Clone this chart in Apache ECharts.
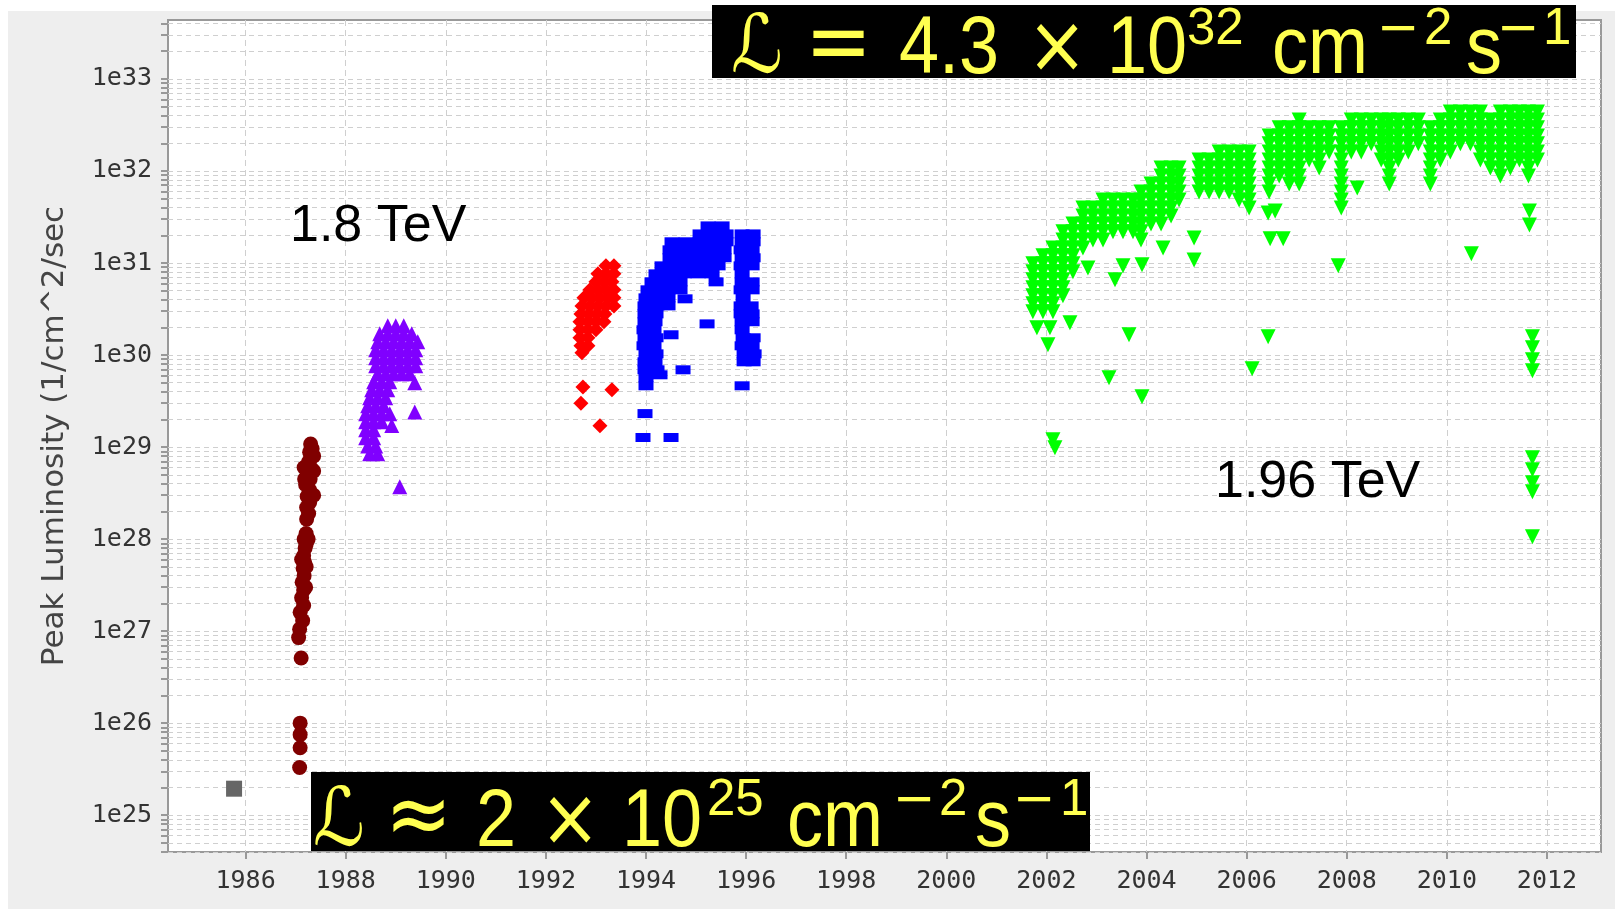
<!DOCTYPE html>
<html>
<head>
<meta charset="utf-8">
<title>Tevatron peak luminosity</title>
<script src="https://cdn.jsdelivr.net/npm/echarts@6/dist/echarts.min.js"></script>
<style>
  html, body { margin: 0; padding: 0; background: #ffffff; }
  #panel { position: absolute; left: 8px; top: 11px; width: 1607px; height: 898px; background: #eeeeee; }
  #chart { position: absolute; left: 0; top: 0; width: 1615px; height: 909px; }
</style>
</head>
<body>
<div id="panel"></div>
<div id="chart"></div>
<script>
// ---- axis ticks -------------------------------------------------------
const yearTicks = [1986, 1988, 1990, 1992, 1994, 1996, 1998, 2000, 2002, 2004, 2006, 2008, 2010, 2012];
const decadeTicks = [1e25, 1e26, 1e27, 1e28, 1e29, 1e30, 1e31, 1e32, 1e33];

// ---- peak luminosity per store [year, 1/cm^2/sec] ---------------------
const firstCollisions = [[1985.77, 1.94e25]];

const run1987 = [
  [1987.08, 3.3e25], [1987.09, 5.4e25], [1987.09, 7.5e25], [1987.09, 1.0e26],
  [1987.11, 5.1e26], [1987.06, 8.5e26], [1987.08, 1.05e27], [1987.14, 1.3e27], [1987.09, 1.6e27],
  [1987.16, 1.9e27], [1987.12, 2.3e27], [1987.16, 2.8e27], [1987.20, 3.0e27], [1987.13, 3.4e27],
  [1987.17, 4.0e27], [1987.15, 4.8e27], [1987.21, 5.0e27], [1987.18, 5.6e27], [1987.12, 6.0e27],
  [1987.16, 6.6e27], [1987.19, 8.0e27],
  [1987.17, 1.0e28], [1987.25, 1.0e28], [1987.21, 1.15e28], [1987.21, 0.88e28],
  [1987.22, 1.65e28], [1987.26, 1.9e28], [1987.22, 2.2e28], [1987.28, 2.5e28], [1987.23, 2.9e28],
  [1987.36, 3.0e28], [1987.28, 3.4e28], [1987.20, 3.9e28], [1987.29, 4.5e28], [1987.18, 4.5e28],
  [1987.25, 5.2e28], [1987.36, 5.5e28], [1987.30, 6.0e28], [1987.17, 6.0e28], [1987.26, 6.9e28],
  [1987.31, 7.9e28], [1987.36, 8.0e28], [1987.28, 8.8e28], [1987.33, 9.6e28], [1987.30, 1.08e29]
];

const run1988 = [
  [1988.84, 2.08e30], [1989.00, 2.08e30], [1989.16, 2.08e30],
  [1988.68, 1.70e30], [1988.84, 1.70e30], [1989.00, 1.70e30], [1989.16, 1.70e30], [1989.32, 1.70e30],
  [1988.64, 1.39e30], [1988.80, 1.39e30], [1988.96, 1.39e30], [1989.12, 1.39e30], [1989.28, 1.39e30], [1989.44, 1.39e30],
  [1988.60, 1.14e30], [1988.76, 1.14e30], [1988.92, 1.14e30], [1989.08, 1.14e30], [1989.24, 1.14e30], [1989.40, 1.14e30],
  [1988.60, 9.33e29], [1988.76, 9.33e29], [1988.92, 9.33e29], [1989.08, 9.33e29], [1989.24, 9.33e29], [1989.40, 9.33e29],
  [1988.60, 7.64e29], [1988.76, 7.64e29], [1988.92, 7.64e29], [1989.08, 7.64e29], [1989.24, 7.64e29], [1989.40, 7.64e29],
  [1988.64, 6.26e29], [1988.80, 6.26e29], [1988.96, 6.26e29], [1989.12, 6.26e29], [1989.28, 6.26e29],
  [1988.56, 5.12e29], [1988.72, 5.12e29], [1988.88, 5.12e29],
  [1988.52, 4.19e29], [1988.68, 4.19e29], [1988.84, 4.19e29],
  [1988.48, 3.43e29], [1988.64, 3.43e29], [1988.80, 3.43e29],
  [1988.44, 2.81e29], [1988.60, 2.81e29], [1988.76, 2.81e29],
  [1988.40, 2.30e29], [1988.56, 2.30e29], [1988.72, 2.30e29], [1988.88, 2.30e29],
  [1988.40, 1.88e29], [1988.56, 1.88e29], [1988.72, 1.88e29],
  [1988.40, 1.54e29], [1988.56, 1.54e29], [1988.40, 1.26e29], [1988.56, 1.26e29],
  [1988.44, 1.03e29], [1988.60, 1.03e29], [1988.48, 8.46e28], [1988.64, 8.46e28],
  [1989.38, 5.0e29], [1989.38, 2.4e29], [1988.92, 1.72e29], [1989.08, 3.7e28]
];

const run1a = [
  [1993.20, 9.31e30], [1993.36, 9.31e30],
  [1993.04, 7.62e30], [1993.20, 7.62e30], [1993.36, 7.62e30],
  [1993.00, 6.24e30], [1993.16, 6.24e30], [1993.32, 6.24e30],
  [1992.88, 5.11e30], [1993.04, 5.11e30], [1993.20, 5.11e30], [1993.36, 5.11e30],
  [1992.76, 4.18e30], [1992.92, 4.18e30], [1993.08, 4.18e30], [1993.24, 4.18e30], [1993.36, 4.18e30],
  [1992.72, 3.42e30], [1992.88, 3.42e30], [1993.04, 3.42e30], [1993.20, 3.42e30], [1993.36, 3.42e30],
  [1992.70, 2.80e30], [1992.86, 2.80e30], [1993.02, 2.80e30], [1993.18, 2.80e30],
  [1992.68, 2.30e30], [1992.84, 2.30e30], [1993.00, 2.30e30], [1993.16, 2.30e30],
  [1992.68, 1.88e30], [1992.84, 1.88e30], [1993.00, 1.88e30],
  [1992.68, 1.54e30], [1992.84, 1.54e30], [1992.70, 1.26e30], [1992.84, 1.26e30],
  [1992.72, 1.06e30],
  [1992.74, 4.5e29], [1993.32, 4.2e29], [1992.70, 3.0e29], [1993.08, 1.7e29]
];

const run1b = [
  [1995.24, 2.53e31], [1995.52, 2.53e31],
  [1995.08, 2.07e31], [1995.36, 2.07e31], [1995.60, 2.07e31],
  [1994.52, 1.70e31], [1994.80, 1.70e31], [1995.08, 1.70e31], [1995.36, 1.70e31], [1995.60, 1.70e31],
  [1994.48, 1.39e31], [1994.76, 1.39e31], [1995.04, 1.39e31], [1995.32, 1.39e31], [1995.56, 1.39e31],
  [1994.48, 1.14e31], [1994.76, 1.14e31], [1995.04, 1.14e31], [1995.32, 1.14e31], [1995.56, 1.14e31],
  [1994.32, 9.31e30], [1994.60, 9.31e30], [1994.88, 9.31e30], [1995.16, 9.31e30], [1995.44, 9.31e30],
  [1994.20, 7.62e30], [1994.48, 7.62e30], [1994.76, 7.62e30], [1995.04, 7.62e30], [1995.32, 7.62e30],
  [1994.12, 6.24e30], [1994.40, 6.24e30], [1994.68, 6.24e30], [1995.40, 6.24e30],
  [1994.04, 5.11e30], [1994.28, 5.11e30], [1994.44, 5.11e30], [1994.68, 5.11e30],
  [1994.00, 4.18e30], [1994.24, 4.18e30], [1994.44, 4.18e30],
  [1993.98, 3.42e30], [1994.22, 3.42e30], [1994.44, 3.42e30], [1993.98, 2.80e30], [1994.20, 2.80e30],
  [1993.98, 2.30e30], [1994.18, 2.30e30], [1993.96, 1.88e30], [1994.16, 1.88e30],
  [1993.98, 1.54e30], [1994.20, 1.54e30], [1993.96, 1.26e30], [1994.16, 1.26e30],
  [1994.00, 1.03e30], [1994.20, 1.03e30], [1993.98, 8.44e29], [1994.18, 8.44e29],
  [1993.98, 6.91e29], [1994.22, 6.91e29], [1994.00, 5.66e29], [1994.00, 4.63e29],
  [1995.92, 2.07e31], [1996.14, 2.07e31], [1995.92, 1.70e31], [1996.14, 1.70e31],
  [1995.90, 1.39e31], [1996.12, 1.39e31], [1995.92, 1.14e31], [1996.14, 1.14e31],
  [1995.90, 9.31e30], [1996.12, 9.31e30], [1995.92, 7.62e30], [1995.92, 6.24e30], [1996.12, 6.24e30],
  [1995.90, 5.11e30], [1996.12, 5.11e30], [1995.94, 4.18e30], [1995.90, 3.42e30], [1996.10, 3.42e30],
  [1995.90, 2.80e30], [1996.12, 2.80e30], [1995.92, 2.30e30], [1996.12, 2.30e30], [1995.92, 1.88e30],
  [1995.94, 1.54e30], [1996.14, 1.54e30], [1995.92, 1.26e30], [1996.12, 1.26e30],
  [1995.96, 1.03e30], [1996.16, 1.03e30], [1995.96, 8.44e29], [1996.14, 8.44e29],
  [1995.92, 4.63e29], [1994.78, 4.08e30], [1995.22, 2.18e30], [1994.50, 1.66e30], [1994.74, 6.91e29],
  [1994.28, 6.10e29], [1993.98, 2.31e29], [1993.94, 1.27e29], [1994.50, 1.27e29]
];

// Run II: stores grouped by date, [year, [peak values]]
const run2Stores = [
  [2001.73, [9.79e30, 8.01e30, 6.56e30, 5.37e30, 4.40e30, 3.60e30, 2.95e30]],
  [2001.93, [1.20e31, 9.79e30, 8.01e30, 6.56e30, 5.37e30, 4.40e30, 3.60e30, 2.95e30]],
  [2002.13, [1.46e31, 1.20e31, 9.79e30, 8.01e30, 6.56e30, 5.37e30, 4.40e30, 3.60e30, 2.95e30]],
  [2002.33, [2.18e31, 1.78e31, 1.46e31, 1.20e31, 9.79e30, 8.01e30, 6.56e30, 5.37e30, 4.40e30]],
  [2002.53, [2.66e31, 2.18e31, 1.78e31, 1.46e31, 1.20e31, 9.79e30, 8.01e30]],
  [2002.73, [3.97e31, 3.25e31, 2.66e31, 2.18e31, 1.78e31, 1.46e31]],
  [2002.93, [3.97e31, 3.25e31, 2.66e31, 2.18e31, 1.78e31]],
  [2003.13, [4.85e31, 3.97e31, 3.25e31, 2.66e31, 2.18e31, 1.78e31]],
  [2003.33, [4.85e31, 3.97e31, 3.25e31, 2.66e31, 2.18e31]],
  [2003.53, [4.85e31, 3.97e31, 3.25e31, 2.66e31, 2.18e31]],
  [2003.73, [4.85e31, 3.97e31, 3.25e31, 2.66e31, 2.18e31]],
  [2003.89, [5.92e31, 4.85e31, 3.97e31, 3.25e31, 2.66e31, 2.18e31, 1.78e31]],
  [2004.09, [7.24e31, 5.92e31, 4.85e31, 3.97e31, 3.25e31, 2.66e31]],
  [2004.29, [1.08e32, 8.84e31, 7.24e31, 5.92e31, 4.85e31, 3.97e31, 3.25e31, 2.66e31]],
  [2004.49, [1.08e32, 8.84e31, 7.24e31, 5.92e31, 4.85e31, 3.97e31, 3.25e31]],
  [2004.65, [1.08e32, 8.84e31, 7.24e31, 5.92e31, 4.85e31]],
  [2005.05, [1.32e32, 1.08e32, 8.84e31, 7.24e31, 5.92e31]],
  [2005.25, [1.32e32, 1.08e32, 8.84e31, 7.24e31, 5.92e31]],
  [2005.45, [1.61e32, 1.32e32, 1.08e32, 8.84e31, 7.24e31, 5.92e31]],
  [2005.65, [1.61e32, 1.32e32, 1.08e32, 8.84e31, 7.24e31, 5.92e31]],
  [2005.85, [1.61e32, 1.32e32, 1.08e32, 8.84e31, 7.24e31, 5.92e31, 4.85e31]],
  [2006.05, [1.61e32, 1.32e32, 1.08e32, 8.84e31, 7.24e31, 5.92e31, 4.85e31, 3.97e31]],
  [2006.45, [2.40e32, 1.97e32, 1.61e32, 1.32e32, 1.08e32, 8.84e31, 7.24e31, 5.92e31]],
  [2006.65, [2.94e32, 2.40e32, 1.97e32, 1.61e32, 1.32e32, 1.08e32, 8.84e31]],
  [2006.85, [2.94e32, 2.40e32, 1.97e32, 1.61e32, 1.32e32, 1.08e32, 8.84e31, 7.24e31]],
  [2007.05, [3.59e32, 2.94e32, 2.40e32, 1.97e32, 1.61e32, 1.32e32, 1.08e32, 8.84e31, 7.24e31]],
  [2007.25, [2.94e32, 2.40e32, 1.97e32, 1.61e32, 1.32e32]],
  [2007.45, [2.94e32, 2.40e32, 1.97e32, 1.61e32, 1.32e32, 1.08e32]],
  [2007.65, [2.94e32, 2.40e32, 1.97e32, 1.61e32]],
  [2007.89, [2.94e32, 2.40e32, 1.97e32, 1.61e32, 1.32e32, 1.08e32, 8.84e31, 7.24e31, 5.92e31, 4.85e31, 3.97e31]],
  [2008.09, [3.59e32, 2.94e32, 2.40e32, 1.97e32, 1.61e32]],
  [2008.29, [3.59e32, 2.94e32, 2.40e32, 1.97e32, 1.61e32]],
  [2008.49, [3.59e32, 2.94e32, 2.40e32, 1.97e32]],
  [2008.69, [3.59e32, 2.94e32, 2.40e32, 1.97e32, 1.61e32, 1.32e32]],
  [2008.85, [3.59e32, 2.94e32, 2.40e32, 1.97e32, 1.61e32, 1.32e32, 1.08e32, 8.84e31, 7.24e31]],
  [2009.03, [3.59e32, 2.94e32, 2.40e32, 1.97e32, 1.61e32, 1.32e32]],
  [2009.23, [3.59e32, 2.94e32, 2.40e32, 1.97e32, 1.61e32]],
  [2009.43, [3.59e32, 2.94e32, 2.40e32, 1.97e32]],
  [2009.67, [2.94e32, 2.40e32, 1.97e32, 1.61e32, 1.32e32, 1.08e32, 8.84e31, 7.24e31]],
  [2009.87, [3.59e32, 2.94e32, 2.40e32, 1.97e32, 1.61e32, 1.32e32]],
  [2010.07, [4.38e32, 3.59e32, 2.94e32, 2.40e32, 1.97e32, 1.61e32]],
  [2010.27, [4.38e32, 3.59e32, 2.94e32, 2.40e32, 1.97e32]],
  [2010.47, [4.38e32, 3.59e32, 2.94e32, 2.40e32, 1.97e32]],
  [2010.67, [4.38e32, 3.59e32, 2.94e32, 2.40e32, 1.97e32, 1.61e32, 1.32e32]],
  [2010.87, [3.59e32, 2.94e32, 2.40e32, 1.97e32, 1.61e32, 1.32e32, 1.08e32]],
  [2011.07, [4.38e32, 3.59e32, 2.94e32, 2.40e32, 1.97e32, 1.61e32, 1.32e32, 1.08e32, 8.84e31]],
  [2011.27, [4.38e32, 3.59e32, 2.94e32, 2.40e32, 1.97e32, 1.61e32, 1.32e32, 1.08e32]],
  [2011.45, [4.38e32, 3.59e32, 2.94e32, 2.40e32, 1.97e32, 1.61e32, 1.32e32]],
  [2011.63, [4.38e32, 3.59e32, 2.94e32, 2.40e32, 1.97e32, 1.61e32, 1.32e32, 1.08e32, 8.84e31]],
  [2011.81, [4.38e32, 3.59e32, 2.94e32, 2.40e32, 1.97e32, 1.61e32, 1.32e32]]
];

const run2Low = [
  [2001.81, 1.98e30], [2002.07, 1.98e30], [2002.03, 1.29e30], [2002.47, 2.24e30], [2002.83, 8.85e30],
  [2003.37, 6.56e30], [2003.53, 9.31e30], [2003.91, 9.55e30], [2003.65, 1.66e30], [2003.25, 5.66e29],
  [2003.91, 3.52e29], [2002.13, 1.2e29], [2002.17, 9.8e28], [2004.33, 1.46e31], [2004.95, 1.87e31],
  [2004.95, 1.08e31], [2006.11, 7.1e29], [2006.43, 1.58e30], [2006.43, 3.5e31], [2006.57, 3.68e31],
  [2006.47, 1.83e31], [2006.73, 1.83e31], [2007.83, 9.31e30], [2008.21, 6.55e31], [2010.49, 1.26e31],
  [2011.65, 3.68e31], [2011.65, 2.59e31], [2011.71, 1.58e30], [2011.71, 1.2e30], [2011.71, 8.9e29],
  [2011.71, 6.75e29], [2011.71, 7.66e28], [2011.71, 5.68e28], [2011.71, 4.1e28], [2011.71, 3.27e28],
  [2011.71, 1.06e28]
];

// ---- build chart -------------------------------------------------------
const run2 = [];
run2Stores.forEach(([yr, vals]) => vals.forEach(v => run2.push([yr, v])));
run2Low.forEach(p => run2.push(p));

const Y_MIN = 3.98e24, Y_MAX = 4.37e33;
const logTicks = [];
for (let e = 24; e <= 33; e++) {
  for (let k = 1; k <= 9; k++) {
    const v = k * Math.pow(10, e);
    if (v >= Y_MIN && v <= Y_MAX) logTicks.push(v);
  }
}

const tickFont = { fontFamily: 'DejaVu Sans Mono', fontSize: 25, color: '#333333' };
const gridLine = { color: '#cfcfcf', width: 1 };

function scatter(name, data, symbol, size, color, extra) {
  return Object.assign({
    name, type: 'scatter', data, symbol, symbolSize: size,
    itemStyle: { color, opacity: 1 },
    silent: true, animation: false,
    emphasis: { disabled: true }
  }, extra || {});
}

// Yellow-on-black luminosity annotations. Each glyph run is placed by its
// left edge and alphabetic baseline; main text is stretched vertically.
const YEL = '#ffff50';
function glyphs(text, x, baseline, size, family, stretch) {
  const s = stretch || 1;
  return {
    type: 'text', x, y: baseline - 0.3465 * size * s, scaleY: s, z: 80,
    style: {
      text, fill: YEL,
      font: size + 'px "' + (family || 'Liberation Sans') + '"',
      align: 'left', verticalAlign: 'middle',
      textAlign: 'left', textVerticalAlign: 'middle'
    }
  };
}
function formula(parts, base, supBase) {
  return parts.map(([text, x, sup, family, size]) =>
    sup ? glyphs(text, x, supBase, size || 51, family, 1)
        : glyphs(text, x, base, size || 72, family, 1.12));
}
function label(text, x, y) {
  return {
    type: 'text', x, y, z: 50,
    style: { text, fill: '#000000', font: '52px "Liberation Sans"',
             align: 'left', verticalAlign: 'middle', textAlign: 'left', textVerticalAlign: 'middle' }
  };
}

const topFormula = formula([
  ['\u2112', 731, false, 'DejaVu Sans'],
  ['=', 805, false, 'DejaVu Sans', 80],
  ['4.3', 899],
  ['\u00d7', 1027, false, 'DejaVu Sans'],
  ['10', 1107],
  ['32', 1187, true],
  ['cm', 1272],
  ['\u2212', 1377, true, 'DejaVu Sans'],
  ['2', 1424, true],
  ['s', 1466],
  ['\u2212', 1497, true, 'DejaVu Sans'],
  ['1', 1543, true]
], 79, 48);

const bottomFormula = formula([
  ['\u2112', 313, false, 'DejaVu Sans'],
  ['\u2248', 385, false, 'DejaVu Sans', 80],
  ['2', 476],
  ['\u00d7', 540, false, 'DejaVu Sans'],
  ['10', 622],
  ['25', 707, true],
  ['cm', 787],
  ['\u2212', 893, true, 'DejaVu Sans'],
  ['2', 939, true],
  ['s', 975],
  ['\u2212', 1013, true, 'DejaVu Sans'],
  ['1', 1060, true]
], 852, 819);

const chart = echarts.init(document.getElementById('chart'), null, { renderer: 'canvas' });
chart.setOption({
  backgroundColor: 'transparent',
  animation: false,
  grid: {
    left: 168, right: 14, top: 20, bottom: 57,
    show: true, backgroundColor: '#ffffff', borderColor: '#999999', borderWidth: 2
  },
  xAxis: {
    type: 'value', min: 1984.45, max: 2013.08,
    axisLine: { show: false },
    axisTick: { show: true, length: 7, customValues: yearTicks, lineStyle: { color: '#999999', width: 2 } },
    axisLabel: Object.assign({ customValues: yearTicks, margin: 17, formatter: v => String(v) }, tickFont),
    splitLine: { show: true, lineStyle: Object.assign({ type: [6, 4] }, gridLine) }
  },
  yAxis: {
    type: 'log', logBase: 10, min: Y_MIN, max: Y_MAX,
    name: 'Peak Luminosity (1/cm^2/sec',
    nameLocation: 'middle', nameRotate: 90, nameGap: 98,
    nameTextStyle: { fontFamily: 'DejaVu Sans', fontSize: 31, color: '#444444' },
    axisLine: { show: false },
    axisTick: { show: true, length: 7, customValues: logTicks, lineStyle: { color: '#999999', width: 2 } },
    axisLabel: Object.assign({
      customValues: decadeTicks, margin: 16,
      formatter: v => '1e' + Math.round(Math.log10(v))
    }, tickFont),
    splitLine: { show: true, lineStyle: Object.assign({ type: [5, 4] }, gridLine) }
  },
  series: [
    scatter('1985', firstCollisions, 'rect', 16, '#666666'),
    scatter('1987', run1987, 'circle', 15, '#800000'),
    scatter('1988-89', run1988, 'triangle', 15, '#8000ff'),
    scatter('Run Ia', run1a, 'diamond', 15, '#ff0000'),
    scatter('Run Ib', run1b, 'rect', [15, 9], '#0000ff'),
    scatter('Run II', run2, 'triangle', 15, '#00ff00', { symbolRotate: 180 })
  ],
  graphic: [
    label('1.8 TeV', 290, 227),
    label('1.96 TeV', 1215, 483),
    { type: 'rect', z: 60, shape: { x: 712, y: 5, width: 864, height: 73 }, style: { fill: '#000000' } },
    { type: 'rect', z: 60, shape: { x: 311, y: 772, width: 779, height: 79 }, style: { fill: '#000000' } }
  ].concat(topFormula, bottomFormula)
});
</script>
</body>
</html>
